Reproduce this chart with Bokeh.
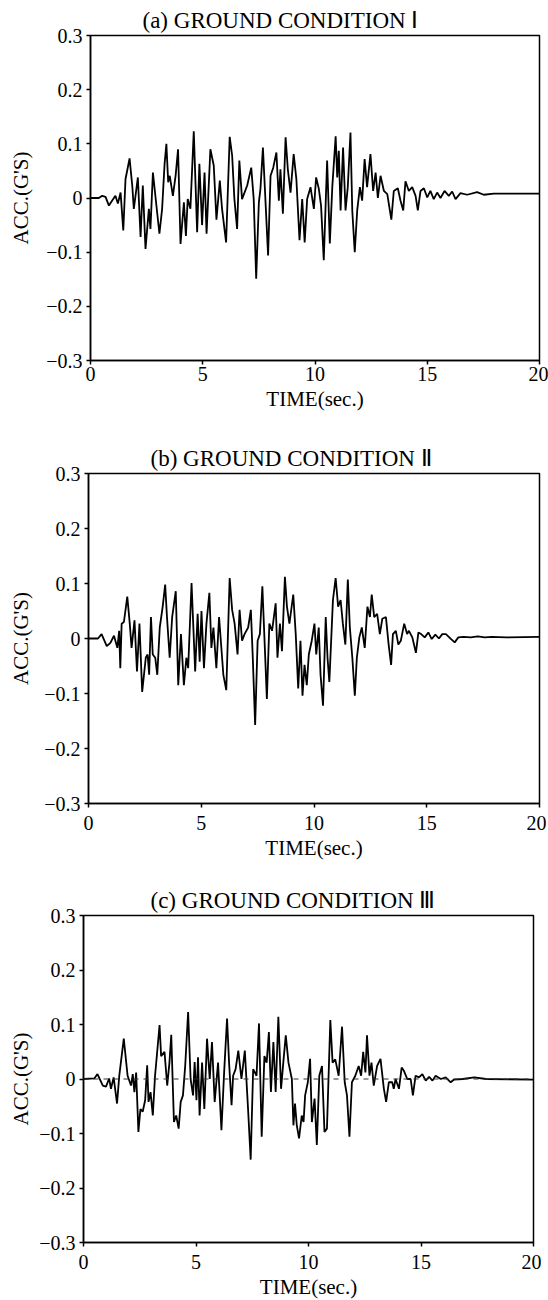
from bokeh.plotting import figure
from bokeh.layouts import column
from bokeh.models import Range1d, FixedTicker, Span, Title
from bokeh.embed import file_html
from bokeh.resources import INLINE

TIME_TICKS = [0, 5, 10, 15, 20]
TIME_LABELS = ["0", "5", "10", "15", "20"]
ACC_TICKS = [-0.3, -0.2, -0.1, 0, 0.1, 0.2, 0.3]
ACC_LABELS = ["\u22120.3", "\u22120.2", "\u22120.1", "0", "0.1", "0.2", "0.3"]
TITLES = ["(a) GROUND CONDITION  \u2160",
          "(b) GROUND CONDITION  \u2161",
          "(c) GROUND CONDITION  \u2162"]
X_LABEL = "TIME(sec.)"
Y_LABEL = "ACC.(G'S)"

# (time s, acceleration G) turning points read from the record
TRACE_A = [
    (0.0, 0.0), (0.37, 0.0), (0.52, 0.004), (0.67, 0.002), (0.82, -0.014), (0.96, -0.005),
    (1.11, 0.004), (1.22, -0.01), (1.34, 0.01), (1.46, -0.06), (1.56, 0.035), (1.74, 0.073),
    (1.86, 0.023), (1.93, -0.02), (2.11, 0.038), (2.23, -0.072), (2.33, 0.023), (2.45, -0.094),
    (2.6, -0.02), (2.67, -0.057), (2.78, 0.047), (2.9, 0.0), (3.07, -0.066), (3.19, -0.02),
    (3.3, 0.063), (3.38, 0.10), (3.46, 0.029), (3.53, 0.041), (3.67, 0.004), (3.79, 0.041),
    (3.9, 0.09), (4.01, -0.085), (4.16, -0.008), (4.25, -0.07), (4.33, -0.002), (4.45, -0.02),
    (4.6, 0.123), (4.75, -0.063), (4.85, 0.063), (4.97, -0.05), (5.08, 0.047), (5.17, -0.066),
    (5.34, 0.09), (5.49, 0.06), (5.61, -0.04), (5.76, 0.032), (5.86, -0.02), (6.04, -0.082),
    (6.2, 0.113), (6.31, 0.078), (6.41, -0.002), (6.53, -0.057), (6.63, 0.069), (6.75, -0.002),
    (6.86, 0.01), (6.98, 0.023), (7.16, 0.056), (7.27, -0.002), (7.38, -0.149), (7.5, -0.008),
    (7.57, 0.017), (7.68, 0.093), (7.79, -0.002), (7.91, -0.106), (8.02, 0.041), (8.14, 0.056),
    (8.28, 0.084), (8.39, -0.005), (8.46, 0.053), (8.57, -0.029), (8.69, 0.112), (8.79, 0.053),
    (8.91, 0.01), (9.05, 0.081), (9.17, 0.035), (9.31, -0.078), (9.43, -0.002), (9.54, -0.082),
    (9.65, -0.002), (9.8, 0.02), (9.95, -0.02), (10.05, 0.038), (10.17, 0.017), (10.27, -0.014),
    (10.39, -0.115), (10.54, 0.069), (10.66, -0.084), (10.77, 0.02), (10.92, 0.114), (10.99, 0.038),
    (11.06, 0.087), (11.14, -0.023), (11.25, 0.093), (11.36, -0.023), (11.46, 0.02), (11.58, 0.121),
    (11.66, -0.023), (11.77, -0.1), (11.88, -0.023), (12.0, 0.02), (12.1, -0.005), (12.21, 0.072),
    (12.32, 0.02), (12.47, 0.081), (12.59, 0.013), (12.7, 0.047), (12.8, 0.0), (12.92, 0.041),
    (13.07, 0.013), (13.22, 0.007), (13.4, -0.04), (13.51, 0.013), (13.69, 0.018), (13.81, -0.005),
    (13.93, -0.023), (14.03, 0.031), (14.18, 0.013), (14.33, 0.02), (14.48, 0.004), (14.58, -0.023),
    (14.7, 0.013), (14.85, 0.018), (15.0, 0.001), (15.14, 0.013), (15.29, -0.002), (15.44, 0.01),
    (15.59, 0.0), (15.77, 0.013), (15.96, 0.004), (16.11, 0.012), (16.26, -0.002), (16.48, 0.009),
    (16.78, 0.006), (17.22, 0.011), (17.52, 0.006), (17.97, 0.008), (20.0, 0.008),
]

TRACE_B = [
    (0.0, 0.0), (0.42, 0.0), (0.58, 0.008), (0.81, -0.014), (0.97, -0.008), (1.13, 0.005),
    (1.28, -0.017), (1.36, 0.014), (1.41, -0.054), (1.47, 0.027), (1.57, 0.03), (1.72, 0.076),
    (1.83, 0.027), (1.91, -0.017), (2.04, 0.033), (2.15, -0.06), (2.26, 0.027), (2.38, -0.097),
    (2.54, -0.035), (2.62, -0.029), (2.69, -0.066), (2.77, 0.039), (2.85, -0.029), (2.96, -0.035),
    (3.05, -0.066), (3.16, 0.02), (3.29, 0.058), (3.4, 0.098), (3.48, 0.039), (3.6, -0.035),
    (3.71, 0.039), (3.87, 0.086), (3.98, -0.085), (4.1, 0.008), (4.23, -0.085), (4.34, -0.035),
    (4.42, -0.054), (4.57, 0.101), (4.65, 0.02), (4.73, -0.06), (4.84, 0.045), (4.93, -0.042),
    (5.01, 0.05), (5.12, -0.054), (5.23, 0.027), (5.36, 0.083), (5.45, -0.017), (5.54, 0.02),
    (5.67, -0.054), (5.79, 0.039), (5.98, -0.066), (6.11, -0.094), (6.26, 0.11), (6.37, 0.052),
    (6.48, 0.027), (6.61, -0.029), (6.7, 0.052), (6.81, -0.004), (6.92, 0.008), (7.08, 0.02),
    (7.2, 0.052), (7.28, -0.029), (7.39, -0.157), (7.5, -0.004), (7.6, 0.008), (7.71, 0.095),
    (7.82, -0.017), (7.91, -0.11), (8.02, 0.027), (8.14, 0.014), (8.3, 0.064), (8.38, -0.035),
    (8.49, 0.027), (8.58, -0.023), (8.71, 0.112), (8.8, 0.058), (8.91, 0.027), (9.08, 0.08),
    (9.19, 0.008), (9.3, -0.091), (9.4, -0.004), (9.49, -0.104), (9.58, -0.048), (9.68, -0.085),
    (9.77, -0.029), (9.9, -0.004), (10.02, 0.027), (10.1, -0.029), (10.21, 0.02), (10.29, -0.066),
    (10.4, -0.122), (10.52, 0.039), (10.6, -0.035), (10.68, -0.079), (10.84, 0.07), (10.96, 0.11),
    (11.07, 0.058), (11.18, 0.07), (11.28, 0.027), (11.39, -0.011), (11.5, 0.107), (11.59, 0.02),
    (11.7, -0.035), (11.81, -0.104), (11.9, -0.035), (12.01, 0.002), (12.12, 0.02), (12.25, -0.017),
    (12.37, 0.058), (12.48, 0.039), (12.56, 0.08), (12.67, 0.039), (12.8, 0.045), (12.92, 0.008),
    (13.03, 0.036), (13.19, 0.039), (13.31, -0.011), (13.42, -0.048), (13.5, 0.008), (13.63, 0.014),
    (13.74, -0.011), (13.85, -0.004), (14.0, 0.027), (14.13, 0.008), (14.21, 0.014), (14.36, 0.002),
    (14.52, -0.026), (14.63, 0.011), (14.75, 0.008), (14.91, 0.002), (15.07, 0.011), (15.22, -0.001),
    (15.38, 0.007), (15.54, 0.0), (15.69, 0.008), (15.85, 0.008), (16.08, -0.001), (16.24, -0.007),
    (16.4, 0.002), (16.63, 0.003), (16.95, 0.002), (17.26, 0.004), (17.57, 0.002), (17.89, 0.003),
    (18.51, 0.002), (20.0, 0.003),
]

TRACE_C = [
    (0.0, 0.0), (0.48, 0.001), (0.62, 0.009), (0.86, -0.012), (1.0, -0.014), (1.14, 0.001),
    (1.22, -0.018), (1.34, 0.003), (1.49, -0.045), (1.59, 0.006), (1.79, 0.074), (1.96, 0.006),
    (2.11, -0.012), (2.19, 0.009), (2.26, -0.024), (2.34, 0.012), (2.44, -0.097), (2.53, -0.055),
    (2.63, -0.06), (2.74, -0.039), (2.83, 0.025), (2.89, -0.042), (2.98, -0.024), (3.08, -0.067),
    (3.18, 0.006), (3.26, 0.043), (3.38, 0.099), (3.45, 0.042), (3.6, 0.05), (3.72, -0.012),
    (3.82, 0.03), (3.9, 0.081), (4.02, -0.079), (4.12, -0.067), (4.23, -0.091), (4.32, -0.042),
    (4.42, -0.03), (4.52, 0.024), (4.65, 0.123), (4.76, 0.0), (4.87, -0.03), (4.94, 0.031),
    (5.02, -0.039), (5.09, 0.04), (5.16, -0.067), (5.27, 0.03), (5.37, -0.055), (5.49, 0.074),
    (5.61, 0.0), (5.71, 0.068), (5.83, -0.042), (5.98, 0.03), (6.13, -0.094), (6.25, 0.012),
    (6.38, 0.111), (6.47, 0.03), (6.58, -0.048), (6.65, 0.006), (6.76, 0.018), (6.88, 0.052),
    (7.02, 0.0), (7.17, 0.052), (7.32, -0.06), (7.43, -0.148), (7.54, 0.018), (7.69, 0.006),
    (7.8, 0.102), (7.92, -0.106), (8.04, 0.042), (8.14, 0.03), (8.24, 0.086), (8.33, -0.024),
    (8.44, 0.068), (8.54, -0.024), (8.66, 0.114), (8.78, -0.018), (8.88, 0.03), (8.99, 0.08),
    (9.11, 0.03), (9.26, 0.0), (9.33, -0.085), (9.4, -0.045), (9.48, -0.085), (9.58, -0.109),
    (9.7, -0.067), (9.78, -0.079), (9.85, -0.03), (9.97, -0.006), (10.07, 0.037), (10.15, -0.079),
    (10.27, -0.036), (10.37, -0.121), (10.48, 0.006), (10.6, 0.024), (10.71, -0.097), (10.82, -0.091),
    (10.97, 0.108), (11.07, 0.03), (11.19, 0.036), (11.34, 0.006), (11.49, 0.096), (11.61, -0.006),
    (11.71, -0.03), (11.82, -0.106), (11.93, -0.006), (12.08, 0.006), (12.23, 0.024), (12.34, 0.006),
    (12.43, 0.05), (12.53, 0.012), (12.6, 0.08), (12.71, 0.006), (12.8, 0.03), (12.9, -0.012),
    (13.05, 0.024), (13.2, 0.037), (13.35, -0.018), (13.45, -0.042), (13.57, -0.006), (13.72, -0.006),
    (13.79, -0.018), (13.87, 0.0), (14.02, -0.018), (14.14, 0.021), (14.24, 0.015), (14.39, 0.0),
    (14.54, 0.0), (14.64, -0.03), (14.76, 0.006), (14.91, 0.003), (15.06, 0.009), (15.21, -0.003),
    (15.36, 0.004), (15.51, -0.003), (15.65, 0.006), (15.88, 0.0), (16.1, 0.003), (16.32, -0.006),
    (16.47, -0.001), (16.85, 0.0), (17.37, 0.003), (17.89, 0.0), (19.97, -0.001), (20.0, -0.001),
]

FONT = "Liberation Serif"
PAGE_W = 548
LEFT = 90


def make_panel(title, trace, shift, fw, top, fh, bottom, title_left,
               tick_standoff, label_standoff, dashed_zero):
    t = [pt[0] for pt in trace]
    acc = [pt[1] for pt in trace]
    right = PAGE_W - LEFT - fw
    p = figure(frame_width=fw, frame_height=fh,
               min_border_left=LEFT, min_border_right=right,
               min_border_top=top, min_border_bottom=bottom,
               x_range=Range1d(0, 20), y_range=Range1d(-0.3, 0.3),
               output_backend="svg", toolbar_location=None,
               background_fill_color="white", border_fill_color="white",
               margin=(0, 0, 0, -shift))
    p.add_layout(Title(text=title, align="left", offset=title_left,
                       text_font=FONT, text_font_size="23px",
                       text_font_style="normal", text_color="black",
                       standoff=6), "above")
    p.outline_line_color = "black"
    p.outline_line_width = 1.5
    p.xgrid.visible = False
    p.ygrid.visible = False

    if dashed_zero:
        p.add_layout(Span(location=0, dimension="width", line_color="#333333",
                          line_width=1, line_dash="5 5"))
    p.line(t, acc, line_color="black", line_width=1.8)

    for ax in (p.xaxis[0], p.yaxis[0]):
        ax.axis_line_width = 1.5
        ax.axis_line_color = "black"
        ax.major_tick_line_width = 1.5
        ax.major_tick_line_color = "black"
        ax.major_tick_out = 4
        ax.major_tick_in = 0
        ax.minor_tick_line_color = None
        ax.major_label_text_font = FONT
        ax.major_label_text_font_size = "20px"
        ax.major_label_text_color = "black"
        ax.axis_label_text_font = FONT
        ax.axis_label_text_font_size = "21px"
        ax.axis_label_text_font_style = "normal"
        ax.axis_label_text_color = "black"

    p.xaxis.ticker = FixedTicker(ticks=TIME_TICKS)
    p.xaxis.major_label_overrides = dict(zip(TIME_TICKS, TIME_LABELS))
    p.xaxis.axis_label = X_LABEL
    p.xaxis.major_label_standoff = tick_standoff
    p.xaxis.axis_label_standoff = label_standoff

    p.yaxis.ticker = FixedTicker(ticks=ACC_TICKS)
    p.yaxis.major_label_overrides = dict(zip(ACC_TICKS, ACC_LABELS))
    p.yaxis.axis_label = Y_LABEL
    p.yaxis.major_label_standoff = 4
    p.yaxis.axis_label_standoff = 10 - shift
    return p


pa = make_panel(TITLES[0], TRACE_A, 0, 449, 35, 325, 70, 52, 2, 3, False)
pb = make_panel(TITLES[1], TRACE_B, 2, 451, 43, 330, 67, 62, 8, 3, False)
pc = make_panel(TITLES[2], TRACE_C, 7, 450, 45, 327, 48, 67, 8, 3, True)

layout = column(pa, pb, pc, spacing=0)

open("out.html", "w").write(file_html(layout, INLINE))
